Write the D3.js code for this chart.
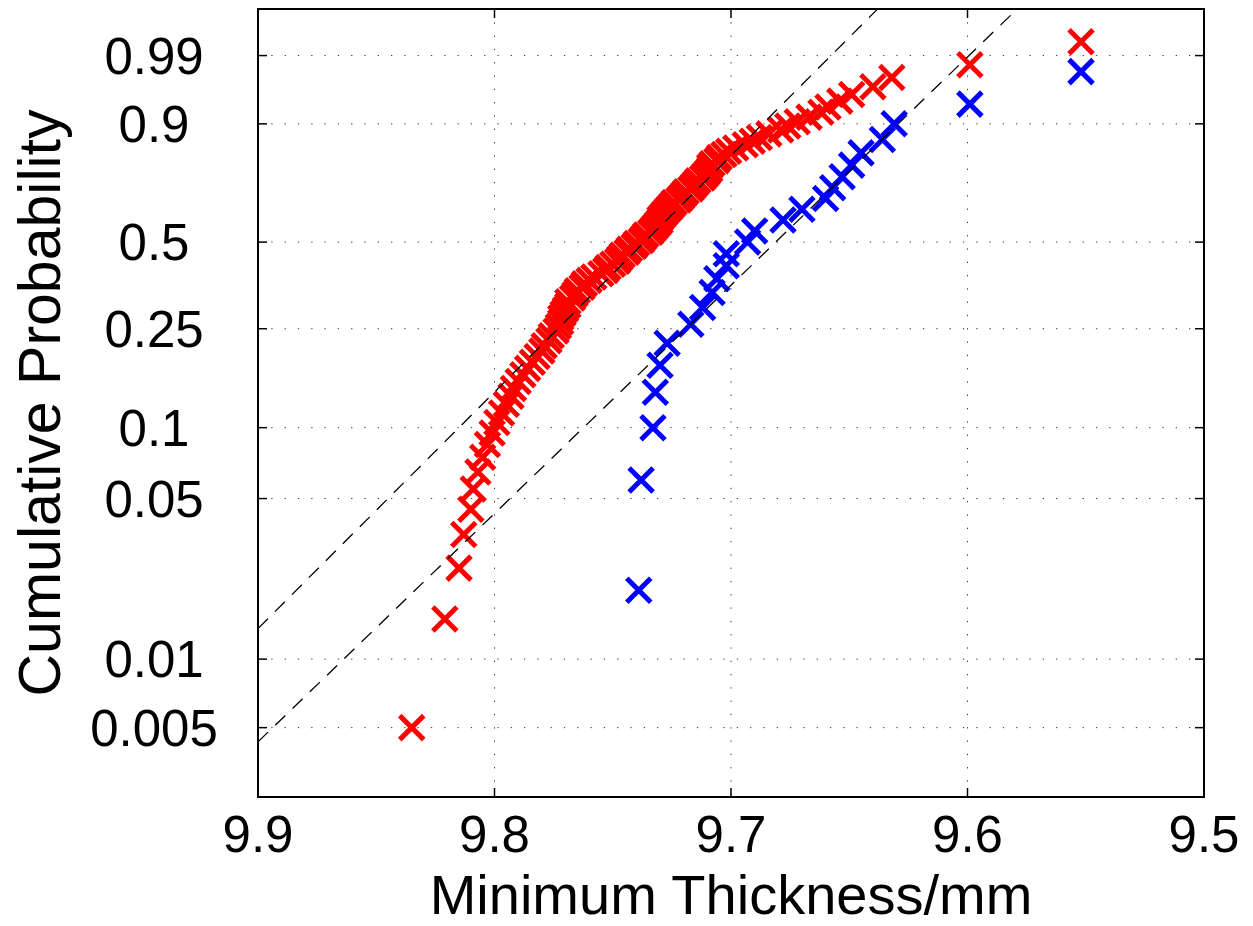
<!DOCTYPE html>
<html>
<head>
<meta charset="utf-8">
<script src="https://cdn.jsdelivr.net/npm/d3@7/dist/d3.min.js"></script>
<style>
	body { margin: 0; background: #fff; }
	text { font-family: "Liberation Sans", Arial, Helvetica, sans-serif; fill: #000; }
</style>
</head>
<body>
<div id="chart"></div>
<script>
// thickness readings, sorted by rank (thickest first)
var redThickness = [
	9.835, 9.821, 9.815, 9.813, 9.810, 9.809, 9.807, 9.805, 9.803, 9.801,
	9.799, 9.797, 9.795, 9.793, 9.792, 9.790, 9.788, 9.786, 9.784, 9.782,
	9.780, 9.779, 9.777, 9.776, 9.774, 9.773, 9.772, 9.772, 9.771, 9.770,
	9.769, 9.769, 9.767, 9.766, 9.765, 9.763, 9.762, 9.760, 9.758, 9.755,
	9.753, 9.752, 9.750, 9.748, 9.747, 9.746, 9.744, 9.743, 9.741, 9.740,
	9.738, 9.737, 9.736, 9.734, 9.733, 9.732, 9.731, 9.730, 9.730, 9.729,
	9.728, 9.727, 9.726, 9.725, 9.724, 9.722, 9.721, 9.720, 9.719, 9.717,
	9.716, 9.715, 9.714, 9.712, 9.711, 9.710, 9.709, 9.709, 9.708, 9.706,
	9.705, 9.703, 9.701, 9.698, 9.694, 9.691, 9.688, 9.684, 9.679, 9.676,
	9.672, 9.667, 9.662, 9.659, 9.654, 9.649, 9.640, 9.632, 9.599, 9.552
];
var blueThickness = [
	9.739, 9.738, 9.733, 9.732, 9.730, 9.727, 9.717, 9.712, 9.708, 9.706,
	9.702, 9.702, 9.693, 9.690, 9.678, 9.670, 9.660, 9.657, 9.653, 9.649,
	9.645, 9.636, 9.631, 9.599, 9.552
];

var probTicks = [0.005, 0.01, 0.05, 0.1, 0.25, 0.5, 0.9, 0.99];
var probLabels = ["0.005", "0.01", "0.05", "0.1", "0.25", "0.5", "0.9", "0.99"];
var thicknessTicks = [9.9, 9.8, 9.7, 9.6, 9.5];
var thicknessLabels = ["9.9", "9.8", "9.7", "9.6", "9.5"];

// reference lines, as two points (thickness, reduced variate ln(-ln(1-p)))
var refLineRed = [[9.9, -4.29], [9.638, 2.0]];
var refLineBlue = [[9.9, -5.44], [9.579, 2.0]];

var W = 1253, H = 926;
var margin = {top: 9, right: 49, bottom: 129, left: 258};
var w = W - margin.left - margin.right,
	h = H - margin.top - margin.bottom;

// weibull probability paper
function wbl(p){ return Math.log(-Math.log(1 - p)); }

var x = d3.scaleLinear().domain([9.9, 9.5]).range([0, w]);
var y = d3.scaleLinear().domain([-6, 2]).range([h, 0]);

var svg = d3.select('#chart').append('svg')
	.attr('width', W)
	.attr('height', H);

svg.append('defs').append('clipPath')
	.attr('id', 'plotclip')
	.append('rect')
	.attr('width', w)
	.attr('height', h);

var g = svg.append('g')
	.attr('transform', 'translate(' + margin.left + ',' + margin.top + ')');

// grid
var gGrid = g.append('g').attr('class', 'grid');
gGrid.selectAll('line.hgrid')
	.data(probTicks)
	.enter().append('line')
	.attr('class', 'hgrid')
	.attr('x1', 0).attr('x2', w)
	.attr('y1', d => y(wbl(d))).attr('y2', d => y(wbl(d)))
	.style('stroke', '#333')
	.style('stroke-width', 1)
	.style('stroke-dasharray', '1.3,12');
gGrid.selectAll('line.vgrid')
	.data(thicknessTicks.slice(1, -1))
	.enter().append('line')
	.attr('class', 'vgrid')
	.attr('x1', d => x(d)).attr('x2', d => x(d))
	.attr('y1', 0).attr('y2', h)
	.style('stroke', '#333')
	.style('stroke-width', 1)
	.style('stroke-dasharray', '1.3,12');

// markers
function toPoints(arr){
	var s = arr.slice().sort(d3.descending);
	var n = s.length;
	return s.map((v, i) => ({x: v, p: (i + 0.5) / n}));
}
var cross = 'M-12,-12L12,12M-12,12L12,-12';

function drawSeries(data, color){
	g.append('g')
		.selectAll('path')
		.data(toPoints(data))
		.enter().append('path')
		.attr('d', cross)
		.attr('transform', d => 'translate(' + x(d.x) + ',' + y(wbl(d.p)) + ')')
		.style('fill', 'none')
		.style('stroke', color)
		.style('stroke-width', 5);
}
drawSeries(redThickness, '#ff0000');
drawSeries(blueThickness, '#0000ff');

// dashed fit lines on top
function drawRef(pts){
	var b = (pts[1][1] - pts[0][1]) / (pts[1][0] - pts[0][0]);
	var a = pts[0][1] - b * pts[0][0];
	var xs = x.domain();
	g.append('line')
		.attr('clip-path', 'url(#plotclip)')
		.attr('x1', x(xs[0])).attr('y1', y(a + b * xs[0]))
		.attr('x2', x(xs[1])).attr('y2', y(a + b * xs[1]))
		.style('stroke', '#000')
		.style('stroke-width', 1.3)
		.style('stroke-dasharray', '14,10');
}
drawRef(refLineRed);
drawRef(refLineBlue);

// box + ticks
g.append('rect')
	.attr('width', w).attr('height', h)
	.style('fill', 'none')
	.style('stroke', '#000')
	.style('stroke-width', 2);

var tk = 9;
var gTicks = g.append('g').style('stroke', '#000').style('stroke-width', 1.5);
probTicks.forEach(function(p){
	var yy = y(wbl(p));
	gTicks.append('line').attr('x1', 0).attr('x2', tk).attr('y1', yy).attr('y2', yy);
	gTicks.append('line').attr('x1', w).attr('x2', w - tk).attr('y1', yy).attr('y2', yy);
});
thicknessTicks.forEach(function(t){
	var xx = x(t);
	gTicks.append('line').attr('x1', xx).attr('x2', xx).attr('y1', h).attr('y2', h - tk);
	gTicks.append('line').attr('x1', xx).attr('x2', xx).attr('y1', 0).attr('y2', tk);
});

// tick labels (y ones are centred in a column left of the axis)
g.selectAll('text.ylab')
	.data(probTicks)
	.enter().append('text')
	.attr('class', 'ylab')
	.attr('x', -104)
	.attr('y', d => y(wbl(d)))
	.attr('dy', '0.36em')
	.attr('text-anchor', 'middle')
	.style('font-size', '51px')
	.text((d, i) => probLabels[i]);

g.selectAll('text.xlab')
	.data(thicknessTicks)
	.enter().append('text')
	.attr('class', 'xlab')
	.attr('x', d => x(d))
	.attr('y', h + 55)
	.attr('text-anchor', 'middle')
	.style('font-size', '51px')
	.text((d, i) => thicknessLabels[i]);

// axis titles
svg.append('text')
	.attr('x', margin.left + w / 2)
	.attr('y', 914)
	.attr('text-anchor', 'middle')
	.style('font-size', '56px')
	.text('Minimum Thickness/mm');

svg.append('text')
	.attr('transform', 'translate(60,' + (margin.top + h / 2) + ') rotate(-90)')
	.attr('text-anchor', 'middle')
	.style('font-size', '59px')
	.text('Cumulative Probability');
</script>
</body>
</html>
